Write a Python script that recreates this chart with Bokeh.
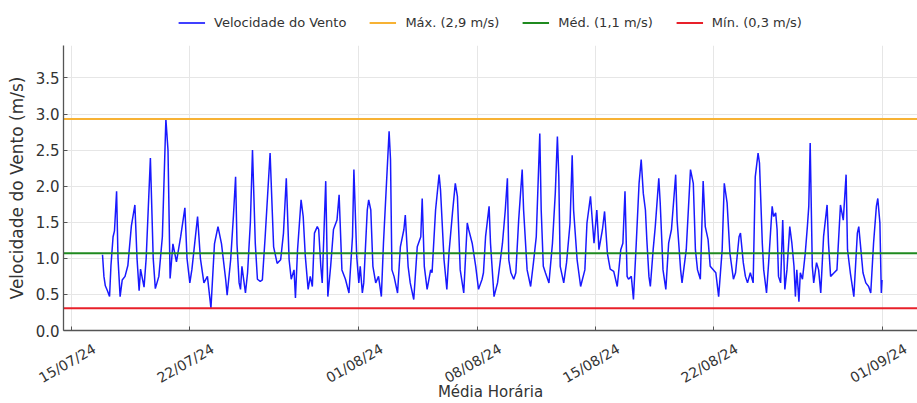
import math
import pandas as pd
from bokeh.plotting import figure
from bokeh.layouts import column
from bokeh.models import (Range1d, FixedTicker, DatetimeTickFormatter, NumeralTickFormatter, Legend,
                          LegendItem, LinearAxis)
from bokeh.embed import file_html
from bokeh.resources import INLINE

# ---- data (hours since 2024-07-15 00:00, hourly mean wind speed in m/s) ----
START = "2024-07-15 00:00"
hours = [44, 46, 48, 51, 54, 56, 59, 61, 64, 66, 69, 72, 76, 80, 85, 90, 93, 96, 98, 103, 106, 112, 116, 119, 124,
         129, 134, 137, 140, 144, 149, 155, 161, 164, 168, 171, 179, 183, 188, 193, 198, 203, 208, 213, 219,
         221, 226, 230, 233, 235, 238, 240, 242, 247, 250, 254, 257, 261, 264, 268, 271, 275, 282, 285, 287,
         292, 297, 301, 305, 309, 312, 316, 318, 321, 326, 329, 332, 336, 339, 342, 345, 349, 351, 354, 356,
         361, 364, 368, 372, 377, 380, 384, 389, 394, 399, 401,
         405, 408, 410, 413, 415, 420, 422, 425, 428, 432, 436, 440, 443, 451, 453, 455, 458, 463, 467, 472,
         474, 478, 481, 486, 491, 496, 498, 501, 505, 510, 512, 517, 522, 524, 529, 533, 536, 541, 545, 548,
         552, 557, 562, 564, 569, 574, 578, 583,
         585, 588, 593, 595, 600, 605, 612, 616, 619, 621, 624, 628, 631, 635, 640, 642, 647, 652, 656, 660,
         665, 667, 670, 673, 678, 683, 687, 690, 692, 694, 699, 703, 708, 711, 713, 718, 723, 729, 732, 737,
         742, 746, 749, 754, 757, 761,
         765, 770, 775, 780, 783, 786, 789, 791, 795, 798, 802, 806, 809, 812, 815, 817, 820, 822, 826, 829,
         834, 836, 840, 844, 848, 852, 858, 860, 865, 867, 873, 879, 883, 886, 889, 893, 897, 900, 904, 907,
         915, 919, 924, 927, 931, 935, 940, 943, 948,
         950, 954, 957, 960, 964, 968, 971, 975, 977, 981, 983, 987, 990, 995, 997, 1000, 1002, 1004, 1007,
         1010, 1013, 1016, 1020, 1023, 1026, 1028, 1030, 1033, 1035, 1038, 1042, 1045, 1047, 1049, 1052,
         1054, 1058, 1061, 1064, 1068, 1073, 1075, 1078, 1083, 1087, 1092, 1096, 1100, 1102, 1106, 1111,
         1116, 1118, 1121, 1124, 1128, 1132, 1135, 1139, 1143, 1145, 1148, 1150, 1151]
speed = [1.05, 0.75, 0.62, 0.55, 0.47, 0.90, 1.30, 1.38, 1.93, 1.00, 0.47, 0.70, 0.75, 0.90, 1.45, 1.74, 1.00, 0.55,
         0.85, 0.60, 1.00, 2.39, 1.00, 0.58, 0.75, 1.30, 2.93, 2.50, 0.72, 1.20, 0.95, 1.30, 1.70, 1.00, 0.66,
         0.85, 1.58, 1.00, 0.66, 0.75, 0.31, 1.20, 1.44, 1.20, 0.70,
         0.49, 0.98, 1.60, 2.13, 1.20, 0.66, 0.57, 0.89, 0.52, 0.80, 1.50, 2.50, 1.20, 0.71, 0.68, 0.70, 1.30,
         2.46, 1.67, 1.16, 0.93, 0.98, 1.35, 2.11, 0.98, 0.71, 0.84, 0.45, 1.12, 1.81, 1.58, 1.03, 0.57, 0.75,
         0.61, 1.35, 1.44, 1.40, 0.89, 0.66, 2.07, 0.47, 0.89, 1.40, 1.53, 1.88, 0.84, 0.71, 0.52, 1.30, 2.23,
         1.03, 0.66, 0.89, 0.52, 0.66, 1.67, 1.81, 1.67, 0.89, 0.66, 0.75, 0.47, 1.21, 2.76, 2.37, 0.84, 0.75,
         0.52, 1.16, 1.40, 1.60, 0.89, 0.66, 0.43, 1.16, 1.30, 1.83, 0.89, 0.57, 0.84, 0.80, 1.67, 2.16, 1.95,
         0.98, 0.57, 1.07, 1.63, 2.04, 1.86, 0.84, 0.52, 1.49, 1.40, 1.21, 0.89, 0.57, 0.71,
         0.80, 1.30, 1.72, 1.21, 0.47, 0.66, 1.21, 1.67, 2.11, 0.98, 0.80, 0.71, 0.80, 1.53, 2.23, 1.67, 0.84,
         0.61, 0.94, 1.30, 2.73, 1.67, 0.89, 0.80, 0.66, 1.21, 1.90, 2.69, 2.13, 0.89, 0.66, 0.94, 1.49, 2.43,
         1.67, 0.98, 0.61, 0.84, 1.49, 1.86, 1.21, 1.67, 1.12, 1.40, 1.65, 1.07,
         0.85, 0.82, 0.61, 1.12, 1.21, 1.93, 0.75, 0.71, 0.75, 0.43, 1.21, 2.04, 2.37, 1.90, 1.67, 1.26, 0.75,
         0.61, 1.12, 1.44, 2.11, 1.77, 0.84, 0.57, 1.21, 1.40, 2.16, 1.53, 0.84, 0.66, 1.12, 2.23, 2.04, 1.12,
         0.84, 0.71, 2.07, 1.44, 1.26, 0.89, 0.80, 0.47, 1.12, 2.04, 1.77, 1.07, 0.71, 0.80, 1.30,
         1.35, 0.94, 0.75, 0.66, 0.80, 0.66, 2.13, 2.46, 2.32, 1.21, 0.84, 0.52, 0.94, 1.72, 1.58, 1.63, 1.40,
         0.75, 0.66, 1.53, 0.57, 0.84, 1.44, 1.21, 0.89, 0.47, 0.84, 0.40, 0.80, 0.71, 1.07, 1.44, 1.72, 2.60,
         0.89, 0.66, 0.94, 0.84, 0.52, 1.30, 1.74, 1.21, 0.75, 0.80, 0.84, 1.74, 1.53, 2.16, 1.12, 0.80, 0.47,
         1.35, 1.44, 1.12, 0.80, 0.66, 0.61, 0.52, 1.21, 1.72, 1.83, 1.49, 0.52, 0.70]

max_speed = 2.93
mean_speed = 1.07
min_speed = 0.31

series_labels = ["Velocidade do Vento", "Máx. (2,9 m/s)", "Méd. (1,1 m/s)", "Mín. (0,3 m/s)"]
series_colors = ["#0000ff", "#f7b234", "#1f8a1f", "#e8202a"]
x_tick_dates = ["2024-07-15", "2024-07-22", "2024-08-01", "2024-08-08", "2024-08-15", "2024-08-22", "2024-09-01"]
x_tick_labels = ["15/07/24", "22/07/24", "01/08/24", "08/08/24", "15/08/24", "22/08/24", "01/09/24"]
y_ticks = [0.0, 0.5, 1.0, 1.5, 2.0, 2.5, 3.0, 3.5]
x_label = "Média Horária"
y_label = "Velocidade do Vento (m/s)"

if len(hours) != len(speed):
    raise ValueError(f"length mismatch {len(hours)} vs {len(speed)}")

# ---- build ----
t0 = pd.Timestamp(START)
times = [t0 + pd.Timedelta(hours=h) for h in hours]
x_start = pd.Timestamp("2024-07-14 12:36")
x_end = pd.Timestamp("2024-09-03 01:24")

FONT = "DejaVu Sans"
FRAME_W = 854
ANGLE = math.pi / 6
XTICK_FS = 14
LEG_H = 44
LABEL_SHIFT_PX = 23

p = figure(width=917, height=403 - LEG_H, x_axis_type="datetime", output_backend="svg", toolbar_location=None,
           x_range=Range1d(start=x_start, end=x_end), y_range=Range1d(0, 3.95),
           min_border_left=63, min_border_right=0, min_border_top=1, min_border_bottom=72)
p.outline_line_color = None
p.background_fill_color = "white"
p.border_fill_color = "white"

p.line(times, speed, line_color=series_colors[0], line_width=1.5, line_alpha=0.9)
p.line([x_start, x_end], [max_speed, max_speed], line_color=series_colors[1], line_width=2)
p.line([x_start, x_end], [mean_speed, mean_speed], line_color=series_colors[2], line_width=2)
p.line([x_start, x_end], [min_speed, min_speed], line_color=series_colors[3], line_width=2)

# main x axis: spine + inward ticks at the dates, labels made invisible
tick_ms = [pd.Timestamp(d).value // 10**6 for d in x_tick_dates]
xa = p.xaxis[0]
xa.ticker = FixedTicker(ticks=tick_ms)
fmt = "%d/%m/%y"
xa.formatter = DatetimeTickFormatter(milliseconds=fmt, seconds=fmt, minsec=fmt, minutes=fmt, hourmin=fmt,
                                     hours=fmt, days=fmt, months=fmt, years=fmt)
xa.major_label_text_font_size = "1px"
xa.major_label_text_color = None
xa.major_label_standoff = 0
xa.axis_line_color = "#555555"
xa.axis_line_width = 1.3
xa.major_tick_line_color = "#555555"
xa.major_tick_in = 4
xa.major_tick_out = 0
xa.minor_tick_line_color = None

# label axis: rotated labels centred on the date ticks (bokeh right-aligns rotated labels)
ms_per_px = (x_end - x_start).total_seconds() * 1000 / FRAME_W
shift_ms = float(int(LABEL_SHIFT_PX * ms_per_px))
shifted = [float(t) + shift_ms for t in tick_ms]
lab_axis = LinearAxis(ticker=FixedTicker(ticks=shifted),
                      major_label_overrides={s: lab for s, lab in zip(shifted, x_tick_labels)})
lab_axis.axis_line_color = None
lab_axis.major_tick_line_color = None
lab_axis.minor_tick_line_color = None
lab_axis.major_label_orientation = ANGLE
lab_axis.major_label_standoff = 11
lab_axis.major_label_text_font = FONT
lab_axis.major_label_text_font_size = f"{XTICK_FS}px"
lab_axis.major_label_text_color = "#333333"
lab_axis.axis_label = x_label
lab_axis.axis_label_text_font = FONT
lab_axis.axis_label_text_font_size = "15px"
lab_axis.axis_label_text_font_style = "normal"
lab_axis.axis_label_text_color = "#333333"
lab_axis.axis_label_standoff = -13
p.add_layout(lab_axis, "below")

ya = p.yaxis[0]
ya.ticker = FixedTicker(ticks=y_ticks)
ya.formatter = NumeralTickFormatter(format="0.0")
ya.axis_line_color = "#555555"
ya.axis_line_width = 1.3
ya.major_tick_line_color = "#555555"
ya.major_tick_in = 4
ya.major_tick_out = 0
ya.minor_tick_line_color = None
ya.major_label_text_font = FONT
ya.major_label_text_font_size = "15px"
ya.major_label_text_color = "#333333"
ya.major_label_standoff = 4
ya.axis_label = y_label
ya.axis_label_text_font = FONT
ya.axis_label_text_font_size = "17px"
ya.axis_label_text_font_style = "normal"
ya.axis_label_text_color = "#333333"
ya.axis_label_standoff = 6

p.xgrid.grid_line_color = "#e6e6e6"
p.ygrid.grid_line_color = "#e6e6e6"

# ---- legend strip above the plot (proxy lines lie outside its 0..1 ranges) ----
lf = figure(width=917, height=LEG_H, output_backend="svg", toolbar_location=None,
            x_range=Range1d(0, 1), y_range=Range1d(0, 1),
            min_border_left=63, min_border_right=0, min_border_top=0, min_border_bottom=0)
lf.axis.visible = False
lf.grid.visible = False
lf.outline_line_color = None
lf.background_fill_color = "white"
lf.border_fill_color = "white"
widths = [1.6, 2, 2, 2]
items = []
for lab, col, w in zip(series_labels, series_colors, widths):
    r = lf.line(x=[-3, -2], y=[-3, -3], line_color=col, line_width=w)
    items.append(LegendItem(label=lab, renderers=[r]))
legend = Legend(items=items, orientation="horizontal", location="center")
legend.label_text_font = FONT
legend.label_text_font_size = "13px"
legend.label_text_color = "#333333"
legend.glyph_width = 27
legend.glyph_height = 12
legend.label_standoff = 9
legend.spacing = 23
legend.padding = 0
legend.margin = 0
legend.border_line_alpha = 0
legend.background_fill_alpha = 0
lf.add_layout(legend, "center")

layout = column(lf, p, spacing=0)
open("out.html", "w").write(file_html(layout, INLINE))
